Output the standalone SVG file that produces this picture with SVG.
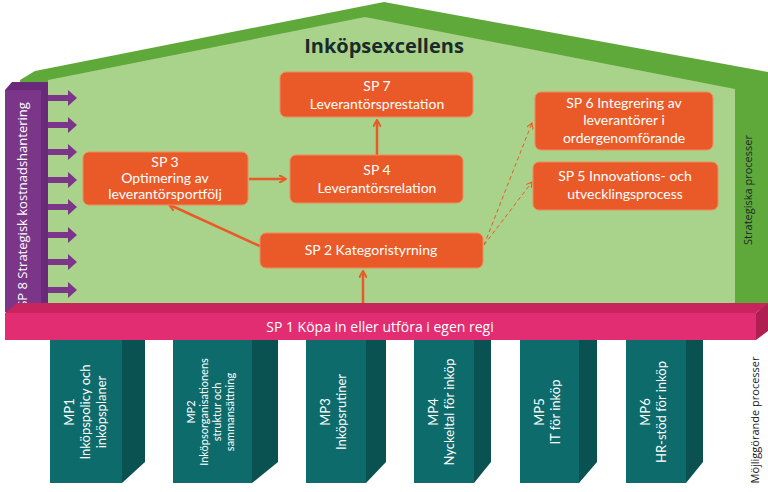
<svg xmlns="http://www.w3.org/2000/svg" width="768" height="492" viewBox="0 0 768 492">
<defs>
<style>
.box{fill:#ea5a28;stroke:#f08a60;stroke-width:1}
.bt{font-family:"Lato","Liberation Sans",sans-serif;font-size:14px;fill:#fff;text-anchor:middle}
.mp{font-family:"Lato","Liberation Sans",sans-serif;font-size:13px;fill:#fff;text-anchor:middle}
.front{fill:#0e6b6b}.side{fill:#0a5252}
.con{stroke:#ea5a28;stroke-width:2.5;fill:none}
.dash{stroke:#ea5a28;stroke-width:1;fill:none;stroke-dasharray:4 3}
</style>
<marker id="ah" markerWidth="8" markerHeight="8" refX="6" refY="4" orient="auto" markerUnits="userSpaceOnUse" viewBox="0 0 8 8"><path d="M0,0 L7,4 L0,8" fill="none" stroke="#ea5a28" stroke-width="2"/></marker>
<marker id="ahs" markerWidth="7" markerHeight="7" refX="6" refY="3.5" orient="auto" markerUnits="userSpaceOnUse"><path d="M0,0 L6,3.5 L0,7" fill="none" stroke="#ea5a28" stroke-width="1"/></marker>
</defs>
<rect width="768" height="492" fill="#fff"/>
<g id="house">
<polygon points="20,80 35,71 384,2 768,72 768,310 20,310" fill="#5fa83a"/>
<polygon points="48,80 365,17 735,89 735,305 48,305" fill="#a9d28a"/>
<text x="384" y="53" font-family="'Open Sans','Liberation Sans',sans-serif" font-weight="bold" font-size="20" fill="#1a2a2a" text-anchor="middle">Inköpsexcellens</text>
<text transform="translate(752,190) rotate(-90)" font-family="'Open Sans','Liberation Sans',sans-serif" font-size="11" fill="#1a2a2a" text-anchor="middle">Strategiska processer</text>
</g>
<g id="sp8">
<polygon points="5,90 12,82 48,82 48,305 40,312 5,312" fill="#6a2a7a"/>
<rect x="5" y="90" width="36" height="222" fill="#7b3589"/>
<g fill="#7b3589">
<polygon points="48,95 68,95 68,90 77,98 68,106 68,101 48,101"/>
<polygon points="48,122 68,122 68,117 77,125 68,133 68,128 48,128"/>
<polygon points="48,149 68,149 68,144 77,152 68,160 68,155 48,155"/>
<polygon points="48,177 68,177 68,172 77,180 68,188 68,183 48,183"/>
<polygon points="48,204 68,204 68,199 77,207 68,215 68,210 48,210"/>
<polygon points="48,232 68,232 68,227 77,235 68,243 68,238 48,238"/>
<polygon points="48,259 68,259 68,254 77,262 68,270 68,265 48,265"/>
<polygon points="48,287 68,287 68,282 77,290 68,298 68,293 48,293"/>
</g>
<text transform="translate(27,205) rotate(-90)" font-family="'Open Sans','Liberation Sans',sans-serif" font-size="13" fill="#fff" text-anchor="middle">SP 8 Strategisk kostnadshantering</text>
</g>
<g id="connectors">
<line class="con" x1="377" y1="155" x2="377" y2="121" marker-end="url(#ah)"/>
<line class="con" x1="249" y1="179" x2="285" y2="179" marker-end="url(#ah)"/>
<line class="con" x1="262" y1="247" x2="170" y2="205" marker-end="url(#ah)"/>
<line class="con" x1="363" y1="312" x2="363" y2="272" marker-end="url(#ah)"/>
<line class="dash" x1="484" y1="245" x2="532" y2="123" marker-end="url(#ahs)"/>
<line class="dash" x1="484" y1="245" x2="532" y2="182" marker-end="url(#ahs)"/>
</g>
<g id="sp7"><rect class="box" x="280" y="72" width="193" height="45" rx="6"/><text class="bt" x="377" y="91">SP 7</text><text class="bt" x="377" y="109">Leverantörsprestation</text></g>
<g id="sp3"><rect class="box" x="83" y="152" width="165" height="53" rx="6"/><text class="bt" x="165" y="167">SP 3</text><text class="bt" x="165" y="183">Optimering av</text><text class="bt" x="165" y="199">leverantörsportfölj</text></g>
<g id="sp4"><rect class="box" x="290" y="155" width="173" height="48" rx="6"/><text class="bt" x="377" y="175">SP 4</text><text class="bt" x="377" y="193">Leverantörsrelation</text></g>
<g id="sp6"><rect class="box" x="535" y="92" width="178" height="58" rx="6"/><text class="bt" x="624" y="108">SP 6 Integrering av</text><text class="bt" x="624" y="125">leverantörer i</text><text class="bt" x="624" y="143">ordergenomförande</text></g>
<g id="sp5"><rect class="box" x="533" y="162" width="185" height="48" rx="6"/><text class="bt" x="625" y="181">SP 5 Innovations- och</text><text class="bt" x="625" y="199">utvecklingsprocess</text></g>
<g id="sp2"><rect class="box" x="260" y="233" width="223" height="35" rx="6"/><text class="bt" x="371" y="255">SP 2 Kategoristyrning</text></g>
<g id="sp1">
<polygon points="5,313 17,303 768,303 756,313" fill="#c8245e"/>
<polygon points="756,313 768,303 768,331 756,340" fill="#b01f52"/>
<rect x="5" y="313" width="751" height="27" fill="#e22d72"/>
<text x="380" y="332" font-family="'Open Sans','Liberation Sans',sans-serif" font-size="14" fill="#fff" text-anchor="middle">SP 1 Köpa in eller utföra i egen regi</text>
</g>
<g id="mp1"><rect class="front" x="50" y="340" width="72" height="143"/><polygon class="side" points="122,340 145,340 145,462 122,483"/><text class="mp" transform="translate(90,412) rotate(-90)"><tspan x="0" dy="-16">MP1</tspan><tspan x="0" dy="16">Inköpspolicy och</tspan><tspan x="0" dy="16">inköpsplaner</tspan></text></g>
<g id="mp2"><rect class="front" x="173" y="340" width="79" height="143"/><polygon class="side" points="252,340 278,340 278,462 252,483"/><text class="mp" style="font-size:11px" transform="translate(215,412) rotate(-90)"><tspan x="0" dy="-20">MP2</tspan><tspan x="0" dy="13">Inköpsorganisationens</tspan><tspan x="0" dy="13">struktur och</tspan><tspan x="0" dy="13">sammansättning</tspan></text></g>
<g id="mp3"><rect class="front" x="306" y="340" width="60" height="143"/><polygon class="side" points="366,340 386,340 386,462 366,483"/><text class="mp" transform="translate(338,412) rotate(-90)"><tspan x="0" dy="-8">MP3</tspan><tspan x="0" dy="16">Inköpsrutiner</tspan></text></g>
<g id="mp4"><rect class="front" x="414" y="340" width="60" height="143"/><polygon class="side" points="474,340 491,340 491,462 474,483"/><text class="mp" transform="translate(446,412) rotate(-90)"><tspan x="0" dy="-8">MP4</tspan><tspan x="0" dy="16">Nyckeltal för inköp</tspan></text></g>
<g id="mp5"><rect class="front" x="520" y="340" width="59" height="143"/><polygon class="side" points="579,340 597,340 597,462 579,483"/><text class="mp" transform="translate(552,412) rotate(-90)"><tspan x="0" dy="-8">MP5</tspan><tspan x="0" dy="16">IT för inköp</tspan></text></g>
<g id="mp6"><rect class="front" x="626" y="340" width="60" height="143"/><polygon class="side" points="686,340 703,340 703,462 686,483"/><text class="mp" transform="translate(658,412) rotate(-90)"><tspan x="0" dy="-8">MP6</tspan><tspan x="0" dy="16">HR-stöd för inköp</tspan></text></g>
<text transform="translate(759,420) rotate(-90)" font-family="'Open Sans','Liberation Sans',sans-serif" font-size="11" fill="#1a1a1a" text-anchor="middle">Möjliggörande processer</text>
</svg>
